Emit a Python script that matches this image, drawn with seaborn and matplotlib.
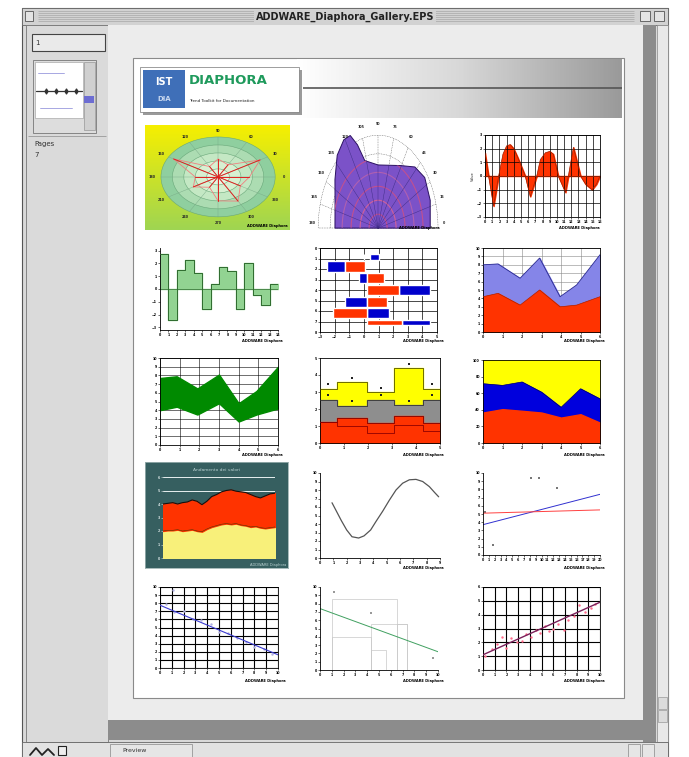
import numpy as np
import seaborn as sns
import matplotlib
matplotlib.use('Agg')
from matplotlib import pyplot as plt
from matplotlib.patches import Rectangle, Polygon, Ellipse
from matplotlib.colors import LinearSegmentedColormap

W, H = 689, 757

# ---- data read off the gallery thumbnails ----
# 1: elliptical polar chart
polar_angles = [0, 30, 60, 90, 120, 150, 180, 210, 240, 270, 300, 330]
polar_labels = ['0', '30', '60', '90', '120', '150', '180', '210', '240', '270', '300', '330']
polar_r = [0.55, 0.85, 0.35, 0.45, 0.3, 0.9, 0.4, 0.5, 0.3, 0.6, 0.7, 0.45]
# 2: half polar area
rose_theta = [0, 19, 35, 47, 61, 90, 107, 111, 115, 121, 131, 144, 161, 180]
rose_r = [0.87, 0.92, 0.95, 0.90, 0.77, 0.68, 0.76, 0.96, 1.10, 1.11, 1.04, 0.89, 0.76, 0.72]
rose_labels = ['0', '15', '30', '45', '60', '75', '90', '105', '120', '135', '150', '165', '180']
# 3: red wave area
wave_x = [0, 0.5, 1.2, 1.9, 2.5, 3.0, 3.5, 4.0, 4.6, 5.6, 6.3, 7.2, 7.7, 8.4, 9.0, 9.5,
          10.2, 11.2, 11.6, 12.3, 13.3, 14.0, 14.9, 15.5, 16]
wave_y = [1.7, 0.0, -2.2, 0.0, 1.6, 2.2, 2.3, 2.0, 1.3, 0.0, -1.5, 0.0, 1.2, 1.7, 1.8, 1.6,
          0.0, -1.2, 0.0, 2.1, 0.0, -0.6, -1.0, -0.6, 0.0]
# 4: green steps
step_vals = [2.75, -2.4, 1.5, 2.25, 1.25, -1.6, 0.4, 1.75, 1.4, -1.6, 2.05, -0.5, -1.25, 0.4]
# 5: floating horizontal bars
bar_rows = [0.85, 1.75, 2.9, 4.0, 5.1, 6.2, 7.1]
bar_height = [0.5, 1.0, 0.95, 0.95, 0.95, 0.95, 0.5]
blue_start = [0.45, -2.5, -0.35, 2.4, -1.3, 0.2, 2.6]
blue_end = [1.0, -1.3, 0.2, 4.5, 0.2, 1.7, 4.5]
red_start = [0.0, -1.3, 0.2, 0.2, 0.2, -2.1, 0.2]
red_end = [0.0, 0.1, 1.35, 2.4, 1.6, 0.2, 2.6]
# 6: stacked area red / lavender
a6_x = [0, 0.77, 1.9, 2.9, 3.95, 4.8, 6]
a6_red = [4.2, 4.6, 3.2, 5.0, 3.0, 3.2, 4.2]
a6_top = [8.0, 8.1, 6.4, 8.8, 4.2, 5.6, 9.2]
# 7: green band
band_x = [0, 0.85, 1.9, 3.0, 4.0, 4.9, 6.0]
band_hi = [7.7, 7.9, 6.5, 8.1, 4.8, 6.2, 9.0]
band_lo = [4.0, 4.4, 3.5, 4.8, 2.7, 3.5, 4.2]
# 8: stacked steps
st_x = [0, 0.7, 1.95, 3.1, 4.3, 5.0]
st_red = [1.25, 1.45, 1.2, 1.57, 1.2]
st_grey = [2.55, 2.2, 2.55, 2.25, 2.55]
st_yellow = [3.2, 3.6, 3.0, 4.4, 3.2]
st_line = [1.25, 0.98, 0.6, 1.08, 0.7]
# 9: 100% stacked area
p_x = [0, 1, 2, 3, 4, 5, 6]
p_red = [36.7, 40.8, 38.8, 36.7, 30.6, 34.7, 24.5]
p_blue = [71.4, 69.4, 73.5, 61.2, 42.9, 65.3, 53.1]
# 10: teal panel
t_x = list(range(24))
t_yellow = [2.0, 2.05, 2.05, 2.1, 2.0, 2.05, 2.1, 2.0, 1.95, 2.15, 2.3, 2.4, 2.5, 2.55,
            2.5, 2.55, 2.45, 2.4, 2.3, 2.35, 2.25, 2.2, 2.25, 2.3]
t_red = [4.0, 4.05, 4.1, 4.0, 4.1, 4.15, 4.3, 4.2, 3.95, 4.2, 4.55, 4.7, 4.9, 5.0, 5.05,
         4.95, 4.9, 4.85, 4.7, 4.55, 4.45, 4.6, 4.75, 4.8]
# 11: curve
c_x = [0.9, 1.2, 1.6, 2.0, 2.4, 2.9, 3.3, 3.8, 4.2, 4.7, 5.2, 5.7, 6.2, 6.7, 7.2, 7.7, 8.2, 8.6, 8.9]
c_y = [6.5, 5.6, 4.4, 3.3, 2.5, 2.35, 2.6, 3.3, 4.3, 5.5, 6.8, 8.0, 8.8, 9.2, 9.25, 9.0, 8.4, 7.7, 7.2]
# 12: two fitted lines
fit_x = [0, 20]
fit_blue = [3.7, 7.4]
fit_red = [5.1, 5.5]
s12_x = [0.3, 1.7, 8.2, 9.6, 12.6]
s12_y = [5.3, 1.2, 9.4, 9.4, 8.2]
# 13: descending regression
r13_x = [0, 10]
r13_y = [7.75, 1.63]
s13_x = [0.5, 1.1, 1.2, 2.0, 2.8, 3.5, 4.3, 5.0, 5.8, 6.5, 7.3, 8.0, 8.8, 9.5]
s13_y = [7.9, 9.6, 6.9, 7.0, 6.1, 5.9, 5.4, 4.5, 4.3, 3.7, 3.2, 2.6, 2.4, 1.7]
# 14: line over range boxes
r14_x = [0, 10]
r14_y = [7.4, 2.2]
box_left = [1.0, 4.3, 1.0, 4.3, 6.5]
box_width = [5.5, 3.1, 3.3, 1.3, 0.9]
box_top = [8.6, 5.6, 4.0, 2.4, 5.6]
s14_x = [1.2, 4.3, 9.6]
s14_y = [9.4, 6.9, 1.4]
# 15: scatter with trend
r15_x = [0, 10]
r15_y = [1.1, 4.9]
s15_x = [0.2, 0.8, 1.2, 1.6, 2.0, 2.4, 2.9, 3.3, 3.7, 4.1, 4.5, 4.9, 5.3, 5.6, 6.0, 6.4,
         6.9, 7.3, 7.8, 8.2, 8.7, 9.2, 9.6]
s15_y = [1.0, 1.5, 1.9, 2.4, 1.6, 2.3, 2.0, 2.1, 2.6, 2.4, 2.9, 2.7, 3.2, 2.8, 3.0, 3.3,
         2.9, 3.6, 3.9, 4.7, 4.2, 4.5, 4.8]

sns.set_theme(style='ticks')
plt.rcParams['font.family'] = ['DejaVu Sans']

fig = plt.figure(figsize=(W / 100, H / 100), dpi=100)
fig.patch.set_facecolor('white')


def add_ax(x0, y0, x1, y1):
    return fig.add_axes([x0 / W, 1 - y1 / H, (x1 - x0) / W, (y1 - y0) / H])


def box(ax, x0, y0, x1, y1, fc, ec='none', lw=0.6, z=1):
    ax.add_patch(Rectangle((x0, y0), x1 - x0, y1 - y0, fc=fc, ec=ec, lw=lw, zorder=z))


def frame(ax, xlim, ylim, xt, yt, grid=True, gc='black', glw=0.5, tc='black', below=True):
    ax.set_xlim(*xlim)
    ax.set_ylim(*ylim)
    ax.set_xticks(xt)
    ax.set_yticks(yt)
    ax.tick_params(labelsize=2.3, length=1.5, width=0.4, pad=0.8, colors=tc)
    for lab in ax.get_xticklabels() + ax.get_yticklabels():
        lab.set_fontweight('bold')
    for s in ax.spines.values():
        s.set_linewidth(0.6)
        s.set_color(tc)
    if grid:
        ax.grid(True, color=gc, lw=glw)
        ax.set_axisbelow(below)
    ax.set_xlabel('')
    ax.set_ylabel('')


def brand(x, y, color='black'):
    fig.text(x / W, 1 - y / H, 'ADDWARE Diaphora', fontsize=2.6, fontweight='bold',
             ha='right', va='center', color=color, zorder=10)


# ---- window chrome ----
bg = add_ax(0, 0, W, H)
bg.set_xlim(0, W)
bg.set_ylim(H, 0)
bg.axis('off')

box(bg, 22, 8, 668, 757, '#d9d9d9', '#555555', 0.8)
box(bg, 22, 8, 668, 25, '#d2d2d2', '#666666', 0.6)
for yy in range(11, 23, 2):
    bg.hlines(yy, 38, 634, color='#a8a8a8', lw=0.5)
box(bg, 25, 11, 33, 21, '#e4e4e4', '#555555', 0.6, 3)
box(bg, 640, 11, 650, 21, '#e4e4e4', '#555555', 0.6, 3)
box(bg, 654, 11, 664, 21, '#e4e4e4', '#555555', 0.6, 3)
bg.text(345, 16.5, 'ADDWARE_Diaphora_Gallery.EPS', ha='center', va='center', fontsize=7,
        fontweight='bold', color='#222222', zorder=4,
        bbox=dict(fc='#d2d2d2', ec='none', pad=1.5))

# left panel
box(bg, 26, 25, 108, 742, '#dadada', '#777777', 0.6)
box(bg, 32, 34, 105, 51, '#eaeaea', '#444444', 0.8, 2)
bg.text(35, 43, '1', fontsize=5, va='center', color='#333333', zorder=3)
box(bg, 33, 60, 96, 133, '#dddddd', '#777777', 0.6, 2)
box(bg, 35, 62, 83, 118, 'white', '#999999', 0.4, 3)
box(bg, 84, 62, 95, 130, '#d0d0d0', '#888888', 0.4, 3)
box(bg, 84, 96, 94, 103, '#6d6dd2', 'none', 0.4, 4)
bg.plot([36, 82], [91, 91], color='#333333', lw=0.9, zorder=4)
bg.scatter([46, 56, 66, 76], [91, 91, 91, 91], color='#333333', s=6, marker='d', zorder=5)
bg.plot([38, 64], [73, 73], color='#9999dd', lw=0.6, zorder=4)
bg.plot([40, 72], [108, 108], color='#9999dd', lw=0.6, zorder=4)
bg.hlines(136, 28, 106, color='#999999', lw=0.6)
bg.text(34, 144, 'Pages', fontsize=5, va='center', color='#333333')
bg.text(34, 155, '7', fontsize=5, va='center', color='#333333')

# main area
box(bg, 108, 25, 643, 720, '#ececec', 'none')
box(bg, 643, 25, 656, 742, '#8c8c8c', 'none')
box(bg, 108, 720, 656, 740, '#8c8c8c', 'none')
box(bg, 657, 25, 668, 742, '#e8e8e8', '#888888', 0.5)
box(bg, 658, 697, 667, 709, '#dcdcdc', '#888888', 0.4, 2)
box(bg, 658, 710, 667, 722, '#dcdcdc', '#888888', 0.4, 2)
box(bg, 22, 742, 668, 757, '#e2e2e2', '#666666', 0.6)
box(bg, 110, 744, 192, 757, '#e6e6e6', '#888888', 0.5, 2)
bg.text(122, 750.5, 'Preview', fontsize=4.5, va='center', color='#333333', zorder=3)
box(bg, 628, 744, 640, 757, '#e6e6e6', '#888888', 0.5, 2)
box(bg, 642, 744, 654, 757, '#e6e6e6', '#888888', 0.5, 2)
bg.plot([30, 36, 42, 48, 54], [755, 748, 755, 749, 755], color='#222222', lw=1.3, zorder=3)
box(bg, 58, 746, 66, 755, '#eeeeee', '#222222', 0.8, 3)

# page
box(bg, 133, 58, 624, 698, 'white', '#8a8a8a', 0.8, 2)
grad_h = np.linspace(0, 1, 200)[None, :]
hdr_cmap = LinearSegmentedColormap.from_list('hdr', ['#ffffff', '#d8d8d8', '#9a9a9a'])
bg.imshow(grad_h, cmap=hdr_cmap, extent=(297, 622, 118, 59), aspect='auto', zorder=3)
bg.hlines(88, 303, 622, color='#555555', lw=1.2, zorder=4)
bg.set_xlim(0, W)
bg.set_ylim(H, 0)
box(bg, 143, 70, 302, 115, '#9a9a9a', 'none', 0.5, 4)
box(bg, 140, 67, 299, 112, 'white', '#777777', 0.5, 5)
box(bg, 143, 70, 185, 108, '#3f6fb8', 'none', 0.5, 6)
bg.text(164, 82, 'IST', fontsize=7, fontweight='bold', color='white', ha='center', va='center',
        zorder=7)
bg.text(164, 99, 'DIA', fontsize=5, fontweight='bold', color='#c8d8f0', ha='center',
        va='center', zorder=7)
bg.text(189, 80, 'DIAPHORA', fontsize=9.5, fontweight='bold', color='#1f9a5c', va='center',
        zorder=7)
bg.text(189, 101, 'Trend Toolkit for Documentation', fontsize=3, color='#222222',
        va='center', zorder=7)

# ---- 1: elliptical polar ----
ax1 = add_ax(145, 125, 290, 230)
vgrad = np.linspace(0, 1, 100)[:, None]
ax1.imshow(vgrad, cmap=LinearSegmentedColormap.from_list('yg', ['#f6ef00', '#9fd552']),
           extent=(-1.28, 1.26, -1.33, 1.3), aspect='auto', origin='upper', zorder=0)
for r, c in zip([1.0, 0.8, 0.6, 0.4, 0.2], ['#8fcf9f', '#acdcb2', '#c4e8c4', '#d8f0d2', '#e8f6e0']):
    ax1.add_patch(Ellipse((0, 0), 2 * r, 2 * r, fc=c, ec='#6aa87a', lw=0.4, zorder=1))
ang = np.deg2rad(polar_angles)
for a in ang:
    ax1.plot([0, np.cos(a)], [0, np.sin(a)], color='#7aaa88', lw=0.3, zorder=2)
px = np.array(polar_r) * np.cos(ang)
py = np.array(polar_r) * np.sin(ang)
ax1.add_patch(Polygon(np.c_[px, py], closed=True, fill=False, ec='#f08080', lw=0.6, zorder=3))
for x, y in zip(px, py):
    ax1.plot([0, x], [0, y], color='#e02020', lw=0.7, zorder=4)
for a, lab in zip(ang, polar_labels):
    ax1.text(1.15 * np.cos(a), 1.15 * np.sin(a), lab, fontsize=2.4, fontweight='bold',
             ha='center', va='center', zorder=5)
ax1.set_xlim(-1.28, 1.26)
ax1.set_ylim(-1.33, 1.3)
ax1.axis('off')
brand(288, 226)

# ---- 2: half polar area ----
ax2 = add_ax(305, 125, 450, 230)
ax2.set_facecolor('#f4ef8c')
th = np.deg2rad(np.linspace(0, 180, 91))
for r in [0.2, 0.4, 0.6, 0.8, 1.0]:
    ax2.plot(r * np.cos(th), r * np.sin(th), color='#333333', lw=0.3, ls=(0, (2, 2)), zorder=1)
spokes = np.deg2rad(np.arange(0, 181, 15))
for a in spokes:
    ax2.plot([0, np.cos(a)], [0, np.sin(a)], color='#333333', lw=0.3, ls=(0, (2, 2)), zorder=1)
rt = np.deg2rad(rose_theta)
rx = np.array(rose_r) * np.cos(rt)
ry = np.array(rose_r) * np.sin(rt)
poly = Polygon(np.r_[np.c_[rx, ry], [[0, 0]]], closed=True, fc='#7b52c8', ec='#2a1060',
               lw=0.7, zorder=2)
ax2.add_patch(poly)
for r, c in zip([0.15, 0.3, 0.45, 0.6, 0.75], ['#c05090', '#d0609a', '#c05090', '#b060b0', '#c05090']):
    ln, = ax2.plot(r * np.cos(th), r * np.sin(th), color=c, lw=0.8, zorder=3)
    ln.set_clip_path(poly)
for a in spokes:
    ln, = ax2.plot([0, 1.2 * np.cos(a)], [0, 1.2 * np.sin(a)], color='#3a2a80', lw=0.3, zorder=3)
    ln.set_clip_path(poly)
for a, lab in zip(spokes, rose_labels):
    ax2.text(1.1 * np.cos(a), 1.06 * np.sin(a) + 0.06, lab, fontsize=2.4, fontweight='bold',
             ha='center', va='center', zorder=4)
ax2.set_xlim(-1.22, 1.2)
ax2.set_ylim(-0.02, 1.11)
ax2.axis('off')
brand(440, 228)

# ---- 3: red wave ----
ax3 = add_ax(485, 135, 600, 217)
ax3.fill_between(wave_x, wave_y, 0, color='#ff3300', zorder=1)
sns.lineplot(x=wave_x, y=wave_y, ax=ax3, color='#a02000', lw=0.5, zorder=3)
ax3.axhline(0, color='#a02000', lw=0.6, zorder=3)
frame(ax3, (0, 16), (-3, 3), range(0, 17), range(-3, 4), glw=0.5, below=False)
ax3.set_ylabel('Value', fontsize=2.5, labelpad=1)
brand(600, 228)

# ---- 4: green steps ----
ax4 = add_ax(160, 248, 278, 330)
sx = np.arange(len(step_vals) + 1)
sv = step_vals + [step_vals[-1]]
ax4.fill_between(sx, sv, 0, step='post', color='#92d392', zorder=2)
ax4.step(sx, sv, where='post', color='#2e6b2e', lw=0.7, zorder=3)
ax4.axhline(0, color='#2e6b2e', lw=0.5)
frame(ax4, (0, 14), (-3.2, 3.2), range(0, 15), range(-3, 4), grid=False)
sns.despine(ax=ax4)
brand(283, 341)

# ---- 5: floating bars ----
ax5 = add_ax(320, 248, 437, 332)
ax5.barh(bar_rows, np.subtract(blue_end, blue_start), left=blue_start, height=bar_height,
         color='#0000cc', zorder=2)
ax5.barh(bar_rows, np.subtract(red_end, red_start), left=red_start, height=bar_height,
         color='#ff3300', zorder=2)
frame(ax5, (-3, 5), (8, 0), range(-3, 6), range(0, 9), glw=0.5)
brand(444, 341)

# ---- 6: stacked area ----
ax6 = add_ax(483, 248, 600, 332)
ax6.fill_between(a6_x, a6_red, a6_top, color='#8585e8', zorder=2)
ax6.fill_between(a6_x, 0, a6_red, color='#ff3300', zorder=2)
sns.lineplot(x=a6_x, y=a6_top, ax=ax6, color='#2a2a90', lw=0.6, zorder=3)
sns.lineplot(x=a6_x, y=a6_red, ax=ax6, color='#b02000', lw=0.5, zorder=3)
frame(ax6, (0, 6), (0, 10), range(0, 7), range(0, 11), gc='#888888', glw=0.4)
brand(605, 341)

# ---- 7: green band ----
ax7 = add_ax(160, 358, 278, 445)
ax7.fill_between(band_x, band_lo, band_hi, color='#008a00', zorder=2)
frame(ax7, (0, 6), (0, 10), range(0, 7), range(0, 11), glw=0.4)
brand(283, 455)

# ---- 8: stacked steps ----
ax8 = add_ax(320, 358, 440, 443)
sxs = st_x
fill_y = st_yellow + [st_yellow[-1]]
fill_g = st_grey + [st_grey[-1]]
fill_r = st_red + [st_red[-1]]
ax8.fill_between(sxs, 0, fill_y, step='post', color='#ffff00', zorder=2)
ax8.fill_between(sxs, 0, fill_g, step='post', color='#8e8e8e', zorder=2)
ax8.fill_between(sxs, 0, fill_r, step='post', color='#ff3300', zorder=2)
for vals, c in [(fill_y, '#555500'), (fill_g, '#333333'), (fill_r, '#800000'),
                (st_line + [st_line[-1]], '#900000')]:
    ax8.step(sxs, vals, where='post', color=c, lw=0.6, zorder=3)
mid = [(a + b) / 2 for a, b in zip(st_x[:-1], st_x[1:])]
for vals in [st_yellow, st_grey]:
    sns.scatterplot(x=mid, y=[v + 0.25 for v in vals], ax=ax8, color='#222222', s=2.5,
                    marker='s', linewidth=0, zorder=4)
frame(ax8, (0, 5), (0, 5), range(0, 6), range(0, 6), grid=False)
brand(444, 455)

# ---- 9: 100% stacked ----
ax9 = add_ax(483, 360, 600, 443)
ax9.fill_between(p_x, p_blue, 100, color='#ffff00', zorder=2)
ax9.fill_between(p_x, p_red, p_blue, color='#0000dd', zorder=2)
ax9.fill_between(p_x, 0, p_red, color='#ff3300', zorder=2)
sns.lineplot(x=p_x, y=p_blue, ax=ax9, color='#000066', lw=0.5, zorder=3)
frame(ax9, (0, 6), (0, 100), range(0, 7), range(0, 101, 20), grid=False)
brand(605, 455)

# ---- 10: teal panel ----
panel = add_ax(145, 462, 288, 568)
panel.set_facecolor('#365f60')
panel.set_xticks([])
panel.set_yticks([])
for s in panel.spines.values():
    s.set_color('#9ab0b0')
    s.set_linewidth(0.6)
panel.text(0.5, 0.92, 'Andamento dei valori', transform=panel.transAxes, fontsize=3.2,
           color='#b8d0d0', ha='center', va='center')
ax10 = add_ax(163, 477, 275, 558)
ax10.set_facecolor('none')
ax10.fill_between(t_x, 0, t_yellow, color='#f8f07a', zorder=2)
ax10.fill_between(t_x, t_yellow, t_red, color='#ff3300', zorder=2)
sns.lineplot(x=t_x, y=t_red, ax=ax10, color='#111111', lw=0.8, zorder=3)
sns.lineplot(x=t_x, y=t_yellow, ax=ax10, color='#553300', lw=0.4, zorder=3)
frame(ax10, (0, 23), (0, 6), [], range(0, 7), gc='#e8f0f0', glw=0.7, tc='#d8e4e4')
ax10.grid(False, axis='x')
sns.despine(ax=ax10, left=True, bottom=True)
fig.text(286 / W, 1 - 565 / H, 'ADDWARE Diaphora', fontsize=2.6, color='#b8d0d0',
         ha='right', va='center', zorder=10)

# ---- 11: curve ----
ax11 = add_ax(320, 473, 440, 558)
sns.lineplot(x=c_x, y=c_y, ax=ax11, color='#555555', lw=0.9)
frame(ax11, (0, 9), (0, 10), range(0, 10), range(0, 11), grid=False)
sns.despine(ax=ax11)
brand(444, 568)

# ---- 12: two fitted lines ----
ax12 = add_ax(483, 473, 600, 555)
sns.lineplot(x=fit_x, y=fit_blue, ax=ax12, color='#3030d0', lw=0.7)
sns.lineplot(x=fit_x, y=fit_red, ax=ax12, color='#ff4040', lw=0.7)
sns.scatterplot(x=s12_x, y=s12_y, ax=ax12, color='#777777', s=3, marker='s', linewidth=0)
frame(ax12, (0, 20), (0, 10), range(0, 21), range(0, 11), grid=False)
sns.despine(ax=ax12)
brand(605, 568)

# ---- 13: descending regression ----
ax13 = add_ax(160, 587, 278, 668)
sns.scatterplot(x=s13_x, y=s13_y, ax=ax13, color='#b0b0e0', s=3, linewidth=0, zorder=3)
sns.lineplot(x=r13_x, y=r13_y, ax=ax13, color='#3a3ad0', lw=0.8, zorder=4)
frame(ax13, (0, 10), (0, 10), range(0, 11), range(0, 11), glw=0.8)
brand(286, 681)

# ---- 14: line over range boxes ----
ax14 = add_ax(320, 587, 438, 670)
ax14.bar(box_left, box_top, width=box_width, align='edge', fill=False, ec='#c8c8c8', lw=0.5)
sns.lineplot(x=r14_x, y=r14_y, ax=ax14, color='#40a060', lw=0.7)
sns.scatterplot(x=s14_x, y=s14_y, ax=ax14, color='#999999', s=3, marker='s', linewidth=0)
frame(ax14, (0, 10), (0, 10), range(0, 11), range(0, 11), grid=False)
sns.despine(ax=ax14)
brand(444, 681)

# ---- 15: scatter with trend ----
ax15 = add_ax(483, 587, 600, 670)
sns.scatterplot(x=s15_x, y=s15_y, ax=ax15, color='#ff6a8a', s=3, linewidth=0, zorder=3)
sns.lineplot(x=r15_x, y=r15_y, ax=ax15, color='#7a1f5a', lw=1.0, zorder=4)
frame(ax15, (0, 10), (0, 6), range(0, 11), range(0, 7), glw=0.8)
brand(605, 681)

fig.savefig('out.png', dpi=100)
